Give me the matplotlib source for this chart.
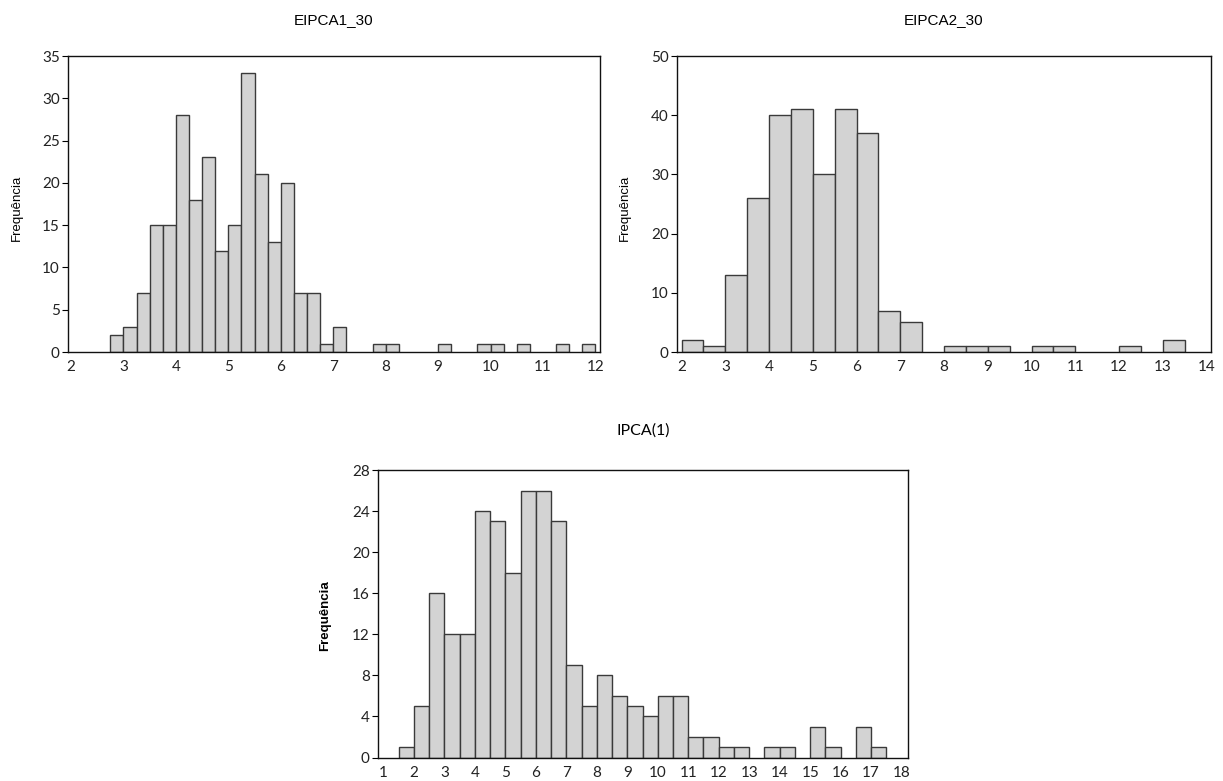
import numpy as np
import matplotlib
matplotlib.use("Agg")
import matplotlib.pyplot as plt

# ── Data (bin left edges + counts) ────────────────────────────
e1_edges = [2.75, 3.0, 3.25, 3.5, 3.75, 4.0, 4.25, 4.5, 4.75, 5.0, 5.25, 5.5,
            5.75, 6.0, 6.25, 6.5, 6.75, 7.0, 7.75, 8.0, 9.0, 9.75, 10.0, 10.5,
            11.25, 11.75]
e1_counts = [2, 3, 7, 15, 15, 28, 18, 23, 12, 15, 33, 21,
             13, 20, 7, 7, 1, 3, 1, 1, 1, 1, 1, 1,
             1, 1]
e1_width = 0.25

e2_edges = [2.0, 2.5, 3.0, 3.5, 4.0, 4.5, 5.0, 5.5, 6.0, 6.5, 7.0,
            8.0, 8.5, 9.0, 10.0, 10.5, 12.0, 13.0]
e2_counts = [2, 1, 13, 26, 40, 41, 30, 41, 37, 7, 5,
             1, 1, 1, 1, 1, 1, 2]
e2_width = 0.5

ip_edges = [1.5, 2.0, 2.5, 3.0, 3.5, 4.0, 4.5, 5.0, 5.5, 6.0, 6.5, 7.0,
            7.5, 8.0, 8.5, 9.0, 9.5, 10.0, 10.5, 11.0, 11.5, 12.0, 12.5,
            13.5, 14.0, 15.0, 15.5, 16.5, 17.0]
ip_counts = [1, 5, 16, 12, 12, 24, 23, 18, 26, 26, 23, 9,
             5, 8, 6, 5, 4, 6, 6, 2, 2, 1, 1,
             1, 1, 3, 1, 3, 1]
ip_width = 0.5

titles = ["EIPCA1_30", "EIPCA2_30", "IPCA(1)"]
ylabel = "Frequência"

# ── Style ─────────────────────────────────────────────────────
tick_font = "Lato"
bar_face = "#d3d3d3"
bar_edge = "#3a3a3a"

fig = plt.figure(figsize=(12.23, 7.81), dpi=100)
W, H = 1223, 781

def add_axes(l, r, t, b):
    return fig.add_axes([l / W, 1 - b / H, (r - l) / W, (b - t) / H])

def style(ax, xlim, ylim, xticks, yticks):
    ax.set_xlim(*xlim)
    ax.set_ylim(*ylim)
    ax.set_xticks(xticks)
    ax.set_yticks(yticks)
    for s in ax.spines.values():
        s.set_linewidth(1.0)
        s.set_color("#111111")
    ax.tick_params(axis="y", direction="out", length=4, width=0.8, pad=2,
                   labelsize=11)
    ax.tick_params(axis="x", direction="out", length=0, pad=6, labelsize=11)
    for lab in ax.get_xticklabels() + ax.get_yticklabels():
        lab.set_family(tick_font)
        lab.set_color("#222222")

def hist(ax, edges, counts, width):
    ax.bar(edges, counts, width=width, align="edge", color=bar_face,
           edgecolor=bar_edge, linewidth=1.0)

# ── EIPCA1_30 ─────────────────────────────────────────────────
ax1 = add_axes(68, 600, 56, 352)
hist(ax1, e1_edges, e1_counts, e1_width)
style(ax1, (1.943, 12.086), (0, 35), range(2, 13), range(0, 36, 5))

# ── EIPCA2_30 ─────────────────────────────────────────────────
ax2 = add_axes(677, 1211, 56, 352)
hist(ax2, e2_edges, e2_counts, e2_width)
style(ax2, (1.895, 14.1), (0, 50), range(2, 15), range(0, 51, 10))

# ── IPCA(1) ───────────────────────────────────────────────────
ax3 = add_axes(378, 908, 470, 757.5)
hist(ax3, ip_edges, ip_counts, ip_width)
style(ax3, (0.82, 18.21), (0, 28), range(1, 19), range(0, 29, 4))

# ── Titles and y labels ───────────────────────────────────────
narrow = ["Liberation Sans Narrow", "Liberation Sans", "DejaVu Sans"]
fig.text(334 / W, 1 - 20 / H, titles[0], ha="center", va="center",
         fontsize=11, family=narrow)
fig.text(944 / W, 1 - 20 / H, titles[1], ha="center", va="center",
         fontsize=11, family=narrow)
fig.text(643 / W, 1 - 431 / H, titles[2], ha="center", va="center",
         fontsize=11.5, family=tick_font)

fig.text(17 / W, 1 - 208 / H, ylabel, rotation=90, ha="center", va="center",
         fontsize=9.5, family="Liberation Sans")
fig.text(625 / W, 1 - 208 / H, ylabel, rotation=90, ha="center", va="center",
         fontsize=9.5, family="Liberation Sans")
fig.text(325 / W, 1 - 616 / H, ylabel, rotation=90, ha="center", va="center",
         fontsize=9.5, family="Liberation Sans", fontweight="bold")

fig.savefig("out.png", dpi=100)
